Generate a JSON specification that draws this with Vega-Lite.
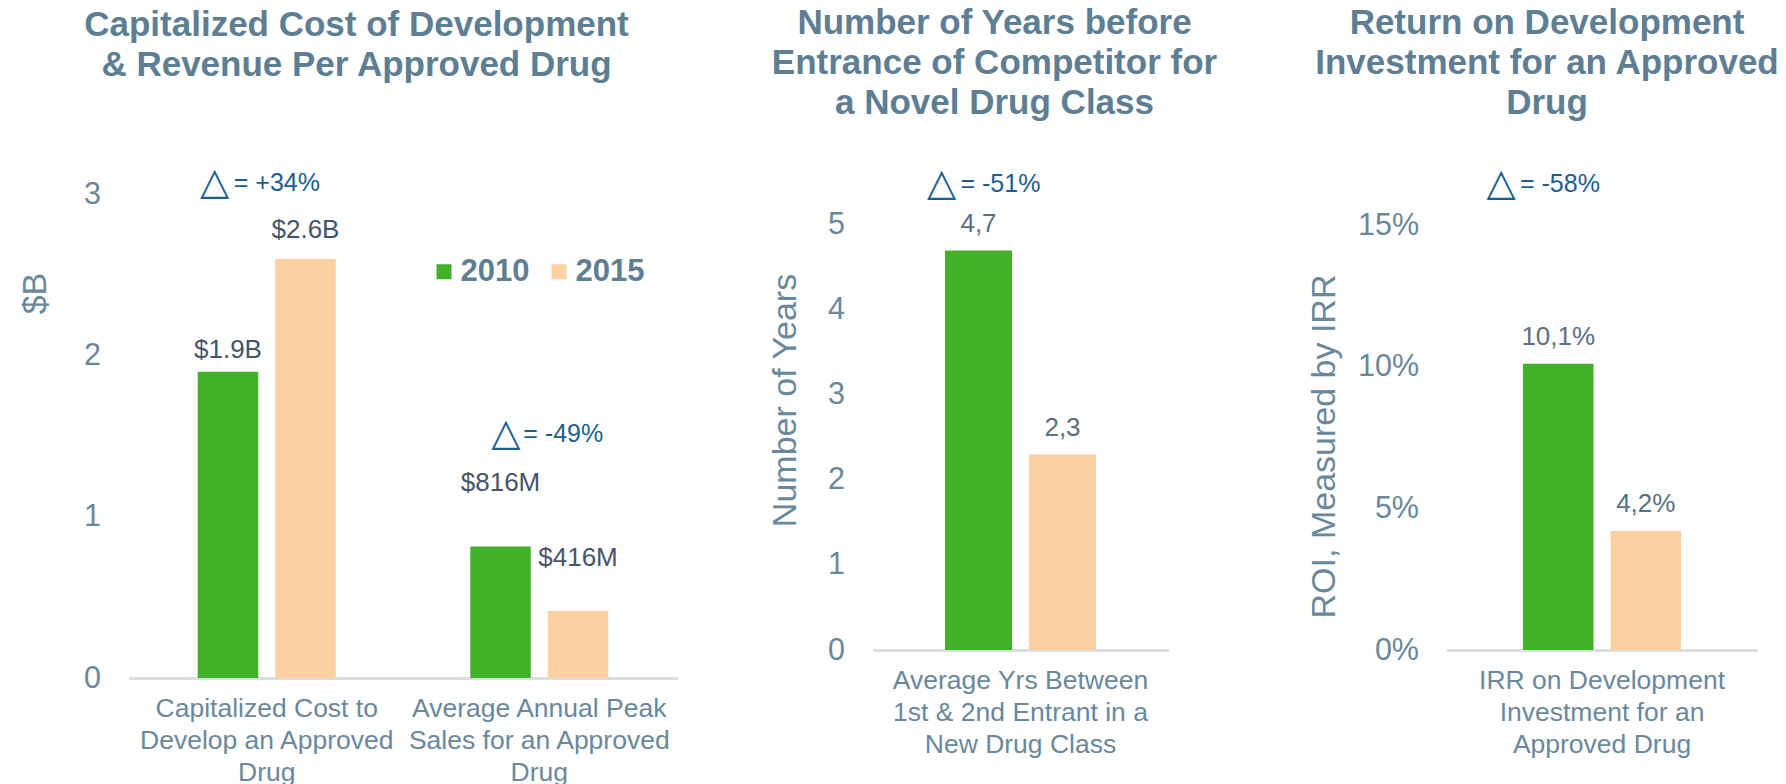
{
  "$schema": "https://vega.github.io/schema/vega-lite/v6.json",
  "padding": {"left": 18.5, "top": 6, "right": 0, "bottom": 0},
  "bounds": "flush",
  "spacing": 195,
  "background": "white",
  "datasets": {
    "main": [
      {"panel": 1, "cat": "Capitalized Cost to\nDevelop an Approved\nDrug", "year": "2010", "value": 1.9, "label": "$1.9B"},
      {"panel": 1, "cat": "Capitalized Cost to\nDevelop an Approved\nDrug", "year": "2015", "value": 2.6, "label": "$2.6B"},
      {"panel": 1, "cat": "Average Annual Peak\nSales for an Approved\nDrug", "year": "2010", "value": 0.816, "label": "$816M"},
      {"panel": 1, "cat": "Average Annual Peak\nSales for an Approved\nDrug", "year": "2015", "value": 0.416, "label": "$416M"},
      {"panel": 2, "cat": "Average Yrs Between\n1st & 2nd Entrant in a\nNew Drug Class", "year": "2010", "value": 4.7, "label": "4,7"},
      {"panel": 2, "cat": "Average Yrs Between\n1st & 2nd Entrant in a\nNew Drug Class", "year": "2015", "value": 2.3, "label": "2,3"},
      {"panel": 3, "cat": "IRR on Development\nInvestment for an\nApproved Drug", "year": "2010", "value": 0.101, "label": "10,1%"},
      {"panel": 3, "cat": "IRR on Development\nInvestment for an\nApproved Drug", "year": "2015", "value": 0.042, "label": "4,2%"}
    ],
    "notes": [
      {"panel": 1, "cat": "Capitalized Cost to\nDevelop an Approved\nDrug", "note": "= +34%", "tri": "△"},
      {"panel": 1, "cat": "Average Annual Peak\nSales for an Approved\nDrug", "note": "= -49%", "tri": "△"},
      {"panel": 2, "cat": "Average Yrs Between\n1st & 2nd Entrant in a\nNew Drug Class", "note": "= -51%", "tri": "△"},
      {"panel": 3, "cat": "IRR on Development\nInvestment for an\nApproved Drug", "note": "= -58%", "tri": "△"}
    ]
  },
  "config": {
    "font": "Liberation Sans",
    "view": {"stroke": null},
    "axisX": {"domainColor": "#d9dee2", "domainWidth": 3, "ticks": false, "labelAngle": 0, "labelFontSize": 26.5, "labelColor": "#6a889b", "labelLineHeight": 32, "labelPadding": 17, "labelLimit": 600, "grid": false},
    "axisY": {"domain": false, "ticks": false, "grid": false, "labelFontSize": 30.5, "labelColor": "#6a889b", "labelPadding": 28, "titleFontSize": 34, "titleFontWeight": "normal", "titleColor": "#6a889b", "titleAngle": 270, "titleAlign": "center", "titleBaseline": "middle"},
    "title": {"fontSize": 35, "fontWeight": "bold", "color": "#5d7e93", "lineHeight": 40, "anchor": "middle"}
  },
  "resolve": {"scale": {"color": "independent", "x": "independent", "y": "independent", "xOffset": "independent"}, "legend": {"color": "independent"}},
  "hconcat": [
    {
      "width": 549,
      "height": 517,
      "title": {"text": ["Capitalized Cost of Development", "& Revenue Per Approved Drug"], "dx": -46.5, "offset": 78},
      "encoding": {
        "x": {"field": "cat", "type": "nominal", "sort": null, "scale": {"paddingInner": 0.4936, "paddingOuter": 0.254}, "axis": {"title": null, "labelExpr": "split(datum.label, '\\n')"}}
      },
      "layer": [
        {
          "data": {"name": "main"},
          "transform": [{"filter": "datum.panel == 1"}],
          "mark": {"type": "bar"},
          "encoding": {
            "xOffset": {"field": "year", "type": "nominal", "scale": {"paddingInner": 0.219, "paddingOuter": 0}},
            "y": {"field": "value", "type": "quantitative", "scale": {"domain": [0, 3.2078], "nice": false}, "axis": {"values": [0, 1, 2, 3], "format": "d", "title": "$B", "titleX": -93, "titleY": 132}},
            "color": {"field": "year", "type": "nominal", "scale": {"domain": ["2010", "2015"], "range": ["#43b02a", "#fdd0a2"]},
              "legend": {"orient": "none", "legendX": 300, "legendY": 95, "direction": "horizontal", "title": null, "symbolType": "square", "symbolSize": 225, "symbolStrokeWidth": 0, "symbolOpacity": 1, "labelFontSize": 31, "labelFontWeight": "bold", "labelColor": "#5d7e93", "columnPadding": 14, "labelOffset": 1, "padding": 0}}
          }
        },
        {
          "data": {"name": "main"},
          "transform": [{"filter": "datum.panel == 1 && datum.label == '$1.9B'"}],
          "mark": {"type": "text", "baseline": "middle", "dy": -22, "fontSize": 26, "color": "#44556a"},
          "encoding": {"xOffset": {"field": "year", "type": "nominal"}, "y": {"field": "value", "type": "quantitative"}, "text": {"field": "label"}}
        },
        {
          "data": {"name": "main"},
          "transform": [{"filter": "datum.panel == 1 && datum.label == '$2.6B'"}],
          "mark": {"type": "text", "baseline": "middle", "dy": -29, "fontSize": 26, "color": "#44556a"},
          "encoding": {"xOffset": {"field": "year", "type": "nominal"}, "y": {"field": "value", "type": "quantitative"}, "text": {"field": "label"}}
        },
        {
          "data": {"name": "main"},
          "transform": [{"filter": "datum.panel == 1 && datum.label == '$816M'"}],
          "mark": {"type": "text", "baseline": "middle", "dy": -63, "fontSize": 26, "color": "#44556a"},
          "encoding": {"xOffset": {"field": "year", "type": "nominal"}, "y": {"field": "value", "type": "quantitative"}, "text": {"field": "label"}}
        },
        {
          "data": {"name": "main"},
          "transform": [{"filter": "datum.panel == 1 && datum.label == '$416M'"}],
          "mark": {"type": "text", "baseline": "middle", "dy": -53, "fontSize": 26, "color": "#44556a"},
          "encoding": {"xOffset": {"field": "year", "type": "nominal"}, "y": {"field": "value", "type": "quantitative"}, "text": {"field": "label"}}
        },
        {
          "data": {"name": "notes"},
          "transform": [{"filter": "datum.panel == 1 && datum.note == '= +34%'"}],
          "mark": {"type": "text", "font": "DejaVu Sans", "fontSize": 38, "align": "center", "baseline": "middle", "dx": -52, "color": "#1b5e8f"},
          "encoding": {"y": {"datum": 3.071}, "text": {"field": "tri"}}
        },
        {
          "data": {"name": "notes"},
          "transform": [{"filter": "datum.panel == 1 && datum.note == '= +34%'"}],
          "mark": {"type": "text", "fontSize": 25, "align": "left", "baseline": "middle", "dx": -33, "color": "#1b5e8f"},
          "encoding": {"y": {"datum": 3.071}, "text": {"field": "note"}}
        },
        {
          "data": {"name": "notes"},
          "transform": [{"filter": "datum.panel == 1 && datum.note == '= -49%'"}],
          "mark": {"type": "text", "font": "DejaVu Sans", "fontSize": 38, "align": "center", "baseline": "middle", "dx": -33.5, "color": "#1b5e8f"},
          "encoding": {"y": {"datum": 1.511}, "text": {"field": "tri"}}
        },
        {
          "data": {"name": "notes"},
          "transform": [{"filter": "datum.panel == 1 && datum.note == '= -49%'"}],
          "mark": {"type": "text", "fontSize": 25, "align": "left", "baseline": "middle", "dx": -16, "color": "#1b5e8f"},
          "encoding": {"y": {"datum": 1.511}, "text": {"field": "note"}}
        }
      ]
    },
    {
      "width": 379,
      "height": 489,
      "title": {"text": ["Number of Years before", "Entrance of Competitor for", "a Novel Drug Class"], "dx": -67.5, "offset": 40},
      "encoding": {
        "x": {"field": "cat", "type": "nominal", "sort": null, "scale": {"range": [0, 296], "paddingInner": 0, "paddingOuter": 0.48}, "axis": {"title": null, "labelExpr": "split(datum.label, '\\n')"}}
      },
      "layer": [
        {
          "data": {"name": "main"},
          "transform": [{"filter": "datum.panel == 2"}],
          "mark": {"type": "bar"},
          "encoding": {
            "xOffset": {"field": "year", "type": "nominal", "scale": {"paddingInner": 0.2024, "paddingOuter": 0}},
            "y": {"field": "value", "type": "quantitative", "scale": {"domain": [0, 5.7529], "nice": false}, "axis": {"values": [0, 1, 2, 3, 4, 5], "format": "d", "title": "Number of Years", "titleX": -87, "titleY": 239}},
            "color": {"field": "year", "type": "nominal", "scale": {"domain": ["2010", "2015"], "range": ["#43b02a", "#fdd0a2"]}, "legend": null}
          }
        },
        {
          "data": {"name": "main"},
          "transform": [{"filter": "datum.panel == 2"}],
          "mark": {"type": "text", "baseline": "middle", "dy": -26, "fontSize": 26, "color": "#5a7080"},
          "encoding": {"xOffset": {"field": "year", "type": "nominal"}, "y": {"field": "value", "type": "quantitative"}, "text": {"field": "label"}}
        },
        {
          "data": {"name": "notes"},
          "transform": [{"filter": "datum.panel == 2"}],
          "mark": {"type": "text", "font": "DejaVu Sans", "fontSize": 38, "align": "center", "baseline": "middle", "dx": -79, "color": "#1b5e8f"},
          "encoding": {"y": {"datum": 5.488}, "text": {"field": "tri"}}
        },
        {
          "data": {"name": "notes"},
          "transform": [{"filter": "datum.panel == 2"}],
          "mark": {"type": "text", "fontSize": 25, "align": "left", "baseline": "middle", "dx": -60, "color": "#1b5e8f"},
          "encoding": {"y": {"datum": 5.488}, "text": {"field": "note"}}
        }
      ]
    },
    {
      "width": 311,
      "height": 489,
      "title": {"text": ["Return on Development", "Investment for an Approved", "Drug"], "dx": -55, "offset": 40},
      "encoding": {
        "x": {"field": "cat", "type": "nominal", "sort": null, "scale": {"paddingInner": 0, "paddingOuter": 0.484}, "axis": {"title": null, "labelExpr": "split(datum.label, '\\n')"}}
      },
      "layer": [
        {
          "data": {"name": "main"},
          "transform": [{"filter": "datum.panel == 3"}],
          "mark": {"type": "bar"},
          "encoding": {
            "xOffset": {"field": "year", "type": "nominal", "scale": {"paddingInner": 0.194, "paddingOuter": 0}},
            "y": {"field": "value", "type": "quantitative", "scale": {"domain": [0, 0.17259], "nice": false}, "axis": {"values": [0, 0.05, 0.1, 0.15], "format": ".0%", "title": "ROI, Measured by IRR", "titleX": -122, "titleY": 285}},
            "color": {"field": "year", "type": "nominal", "scale": {"domain": ["2010", "2015"], "range": ["#43b02a", "#fdd0a2"]}, "legend": null}
          }
        },
        {
          "data": {"name": "main"},
          "transform": [{"filter": "datum.panel == 3"}],
          "mark": {"type": "text", "baseline": "middle", "dy": -27, "fontSize": 26, "color": "#5a7080"},
          "encoding": {"xOffset": {"field": "year", "type": "nominal"}, "y": {"field": "value", "type": "quantitative"}, "text": {"field": "label"}}
        },
        {
          "data": {"name": "notes"},
          "transform": [{"filter": "datum.panel == 3"}],
          "mark": {"type": "text", "font": "DejaVu Sans", "fontSize": 38, "align": "center", "baseline": "middle", "dx": -101, "color": "#1b5e8f"},
          "encoding": {"y": {"datum": 0.1643}, "text": {"field": "tri"}}
        },
        {
          "data": {"name": "notes"},
          "transform": [{"filter": "datum.panel == 3"}],
          "mark": {"type": "text", "fontSize": 25, "align": "left", "baseline": "middle", "dx": -82, "color": "#1b5e8f"},
          "encoding": {"y": {"datum": 0.1643}, "text": {"field": "note"}}
        }
      ]
    }
  ]
}
